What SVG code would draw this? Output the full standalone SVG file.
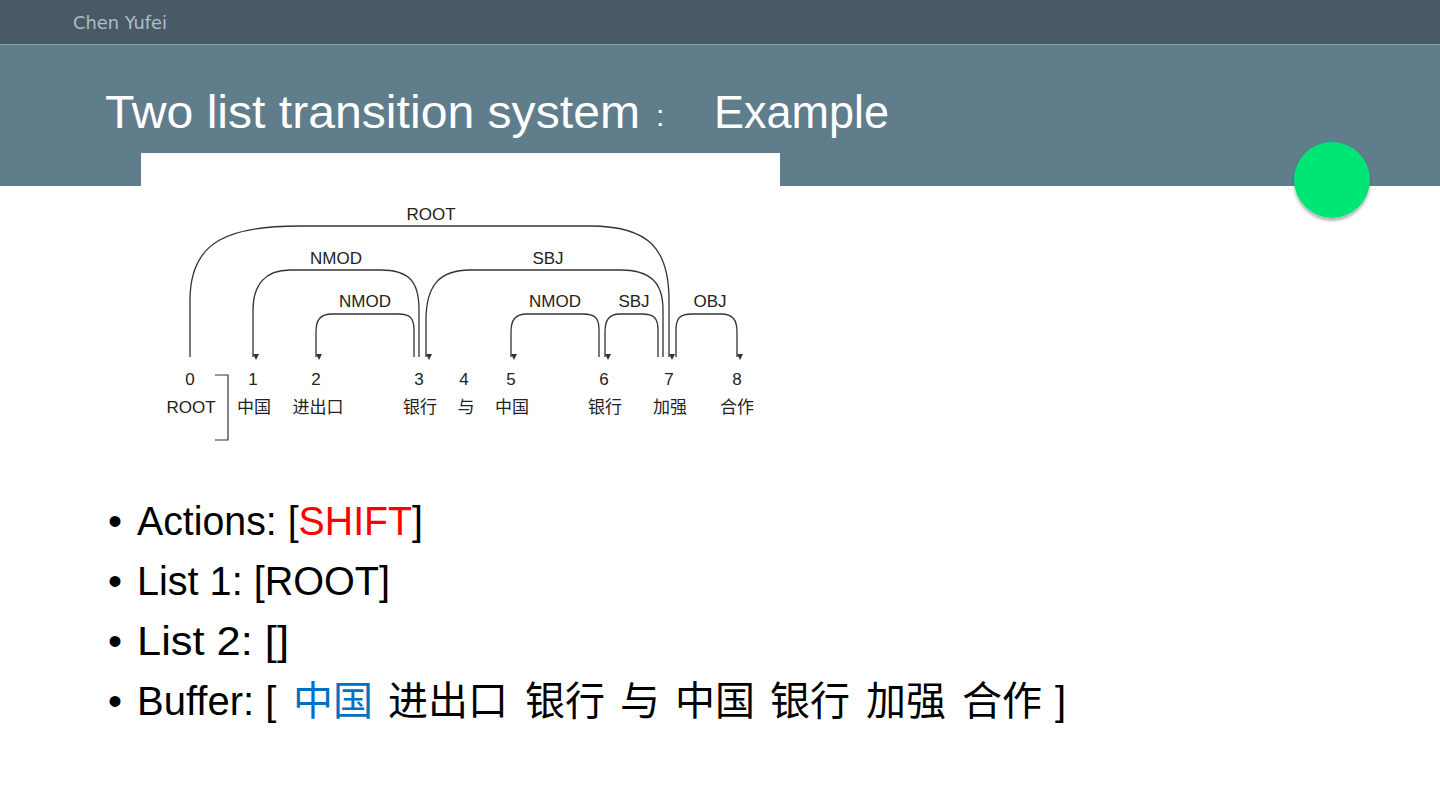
<svg xmlns="http://www.w3.org/2000/svg" width="1440" height="810" viewBox="0 0 1440 810">
<defs>
<style>
.arc{fill:none;stroke:#333;stroke-width:1.3;marker-end:url(#ah)}
.lbl{font-family:"Liberation Sans",Arial,sans-serif;font-size:17px;fill:#222;text-anchor:middle}
.zh{font-family:"Liberation Sans","Noto Sans CJK SC",sans-serif;font-size:17px;fill:#222;text-anchor:middle}
.bul{font-family:"Liberation Sans","Noto Sans CJK SC",sans-serif;font-size:40px;fill:#000}
</style>
<marker id="ah" viewBox="0 0 8 8" refX="4" refY="8" markerWidth="6" markerHeight="7" markerUnits="userSpaceOnUse" orient="auto-start-reverse">
<path d="M0,0 L8,0 L4,8 Z" fill="#333" transform="rotate(-90 4 4)"/>
</marker>
<filter id="sh" x="-30%" y="-30%" width="160%" height="170%">
<feDropShadow dx="0" dy="3" stdDeviation="1.5" flood-color="#000" flood-opacity="0.3"/>
</filter>
</defs>
<rect x="0" y="0" width="1440" height="810" fill="#fff"/>
<g id="header">
<rect x="0" y="0" width="1440" height="44" fill="#485a66"/>
<rect x="0" y="44" width="1440" height="142" fill="#607d8b"/>
<line x1="0" y1="44.5" x2="1440" y2="44.5" stroke="#8fa3ae" stroke-width="1"/>
<text x="73" y="29" font-family="'DejaVu Sans',sans-serif" font-size="17" fill="#b0bec5" textLength="94" lengthAdjust="spacingAndGlyphs">Chen Yufei</text>
<text x="105" y="128" font-family="'Liberation Sans',sans-serif" font-size="47" fill="#fff" textLength="535" lengthAdjust="spacingAndGlyphs">Two list transition system</text>
<text x="656" y="126" font-family="'Liberation Sans',sans-serif" font-size="30" fill="#fff">:</text>
<text x="714" y="128" font-family="'Liberation Sans',sans-serif" font-size="47" fill="#fff" textLength="175" lengthAdjust="spacingAndGlyphs">Example</text>
</g>
<g id="badge"><circle cx="1332" cy="180" r="38" fill="#00e676" filter="url(#sh)"/></g>
<rect x="141" y="153" width="639" height="300" fill="#fff"/>
<g id="connectors">
<path id="e-root" class="arc" d="M190,357 L190,300 C190,240 230,226 300,226 L590,226 C650,226 669,250 669,300 L669,357"/>
<path id="e-nmod31" class="arc" d="M419,357 L419,310 C419,282 410,270 380,270 L290,270 C265,270 253,285 253,310 L253,357"/>
<path id="e-sbj73" class="arc" d="M663,357 L663,310 C663,282 650,270 620,270 L470,270 C440,270 426,285 426,320 L426,357"/>
<path id="e-nmod32" class="arc" d="M414,357 L414,330 C414,318 410,314 398,314 L332,314 C320,314 316,320 316,332 L316,357"/>
<path id="e-nmod65" class="arc" d="M599,357 L599,330 C599,318 595,314 583,314 L527,314 C515,314 511,320 511,332 L511,357"/>
<path id="e-sbj76" class="arc" d="M658,357 L658,330 C658,318 654,314 642,314 L620,314 C609,314 605,320 605,332 L605,357"/>
<path id="e-obj78" class="arc" d="M676,357 L676,330 C676,318 680,314 692,314 L721,314 C733,314 737,320 737,332 L737,357"/>
<text class="lbl" x="431" y="220">ROOT</text>
<text class="lbl" x="336" y="264">NMOD</text>
<text class="lbl" x="548" y="264">SBJ</text>
<text class="lbl" x="365" y="307">NMOD</text>
<text class="lbl" x="555" y="307">NMOD</text>
<text class="lbl" x="634" y="307">SBJ</text>
<text class="lbl" x="710" y="307">OBJ</text>
<path d="M215,375 L228,375 L228,440 L215,440" fill="none" stroke="#333" stroke-width="1.2"/>
</g>
<g id="w0"><text class="lbl" x="190" y="385">0</text><text class="zh" x="191" y="413">ROOT</text></g>
<g id="w1"><text class="lbl" x="253" y="385">1</text><text class="zh" x="254" y="413">中国</text></g>
<g id="w2"><text class="lbl" x="316" y="385">2</text><text class="zh" x="318" y="413">进出口</text></g>
<g id="w3"><text class="lbl" x="419" y="385">3</text><text class="zh" x="420" y="413">银行</text></g>
<g id="w4"><text class="lbl" x="464" y="385">4</text><text class="zh" x="466" y="413">与</text></g>
<g id="w5"><text class="lbl" x="511" y="385">5</text><text class="zh" x="512" y="413">中国</text></g>
<g id="w6"><text class="lbl" x="604" y="385">6</text><text class="zh" x="605" y="413">银行</text></g>
<g id="w7"><text class="lbl" x="669" y="385">7</text><text class="zh" x="670" y="413">加强</text></g>
<g id="w8"><text class="lbl" x="737" y="385">8</text><text class="zh" x="737" y="413">合作</text></g>
<g id="bullets">
<text class="bul" x="108" y="535">•</text>
<text class="bul" x="137" y="535" textLength="286" lengthAdjust="spacingAndGlyphs">Actions: [<tspan fill="#ff0000">SHIFT</tspan>]</text>
<text class="bul" x="108" y="595">•</text>
<text class="bul" x="137" y="595" textLength="253" lengthAdjust="spacingAndGlyphs">List 1: [ROOT]</text>
<text class="bul" x="108" y="655">•</text>
<text class="bul" x="137" y="655" textLength="152" lengthAdjust="spacingAndGlyphs">List 2: []</text>
<text class="bul" x="108" y="715">•</text>
<text class="bul" x="137" y="715">Buffer: [<tspan x="293" fill="#0070c0">中国</tspan><tspan x="388">进出口</tspan><tspan x="525">银行</tspan><tspan x="620">与</tspan><tspan x="675">中国</tspan><tspan x="770">银行</tspan><tspan x="866">加强</tspan><tspan x="962">合作</tspan><tspan x="1055">]</tspan></text>
</g>
</svg>
